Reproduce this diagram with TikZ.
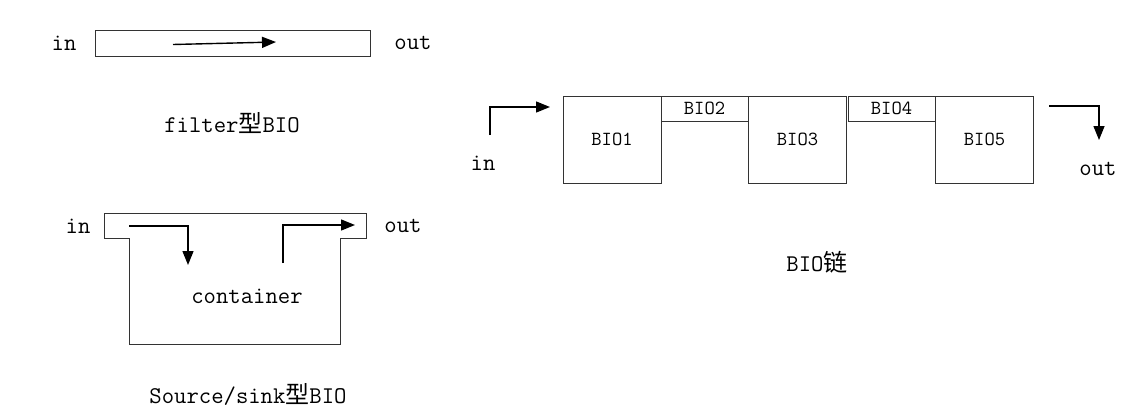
\documentclass[tikz,border=0pt]{standalone}
\usepackage{fontspec}
\newfontfamily\cjk{Noto Sans CJK SC}
\usetikzlibrary{arrows.meta}

\begin{document}
\begin{tikzpicture}[
  x=1pt, y=-1pt, >={Triangle[length=14pt,width=11pt]},
  txt/.style={font=\fontsize{24}{28}\selectfont\ttfamily, inner sep=0pt},
  bio/.style={draw=black!80, line width=0.9pt, inner sep=0pt,
              font=\fontsize{20}{24}\selectfont\ttfamily},
  bigbio/.style={bio, minimum width=98pt, minimum height=87pt},
  smallbio/.style={bio, minimum width=87pt, minimum height=25pt},
  frame/.style={draw=black!80, line width=0.9pt},
  arr/.style={->, line width=1.4pt}]
  \useasboundingbox (0,0) rectangle (1137,416);
  % filter BIO
  \node[frame, minimum width=275pt, minimum height=26pt, inner sep=0pt] (filt) at (232.5,43) {};
  \node[txt] (fin)  at (64,43)  {in};
  \node[txt] (fout) at (413,43) {out};
  \coordinate (fa) at (173,44.5);
  \coordinate (fb) at (276,42);
  \draw[arr] (fa)--(fb);
  \node[txt] (fcap) at (232,123) {filter{\cjk 型}BIO};
  % source/sink BIO
  \draw[frame] (104,213)--(366,213)--(366,238)--(340,238)--(340,344)--(129,344)--(129,238)--(104,238)--cycle;
  \node[txt] (sin)  at (78,226)  {in};
  \node[txt] (sout) at (403,226) {out};
  \node[txt] (cont) at (247,296) {container};
  \coordinate (sa) at (129,226);
  \coordinate (sb) at (188,265);
  \coordinate (sc) at (283,263);
  \coordinate (sd) at (355,225);
  \draw[arr] (sa)-|(sb);
  \draw[arr] (sc)|-(sd);
  \node[txt] (scap) at (248,394) {Source/sink{\cjk 型}BIO};
  % BIO chain
  \node[bigbio]   (b1) at (612,139.5) {BIO1};
  \node[smallbio] (b2) at (704.5,108.5) {BIO2};
  \node[bigbio]   (b3) at (797.5,139.5) {BIO3};
  \node[smallbio] (b4) at (891.5,108.5) {BIO4};
  \node[bigbio]   (b5) at (984.5,139.5) {BIO5};
  \node[txt] (cin)  at (483,163)  {in};
  \node[txt] (cout) at (1098,169) {out};
  \coordinate (ca) at (490,135);
  \coordinate (cb) at (550,107);
  \coordinate (cc) at (1049,106);
  \coordinate (cd) at (1099,140);
  \draw[arr] (ca)|-(cb);
  \draw[arr] (cc)-|(cd);
  \node[txt] (ccap) at (817,262) {BIO{\cjk 链}};
\end{tikzpicture}
\end{document}
